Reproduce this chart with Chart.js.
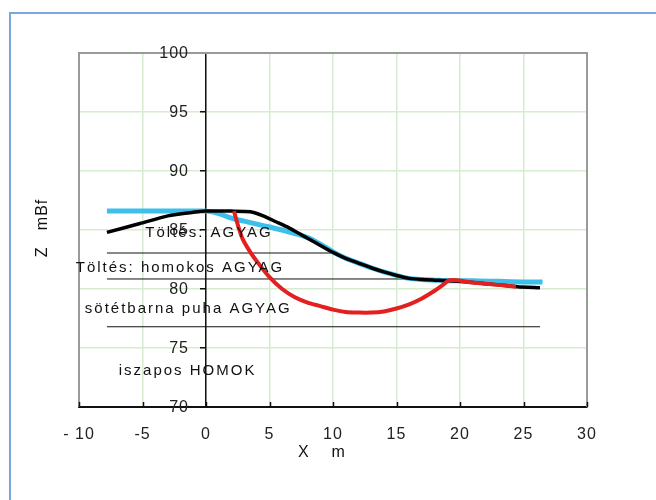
<!DOCTYPE html>
<html>
<head>
<meta charset="utf-8">
<script src="https://cdn.jsdelivr.net/npm/chart.js@4.4.1/dist/chart.umd.min.js"></script>
<style>
  html, body { margin: 0; padding: 0; background: #fff; }
  #wrap { width: 656px; height: 500px; }
</style>
</head>
<body>
<div id="wrap"><canvas id="c" width="656" height="500"></canvas></div>
<script>
// ---- data ----
const xTicks = [-10, -5, 0, 5, 10, 15, 20, 25, 30];
const xTickLabels = ['- 10', '-5', '0', '5', '10', '15', '20', '25', '30'];
const yTicks = [70, 75, 80, 85, 90, 95, 100];
const yTickLabels = ['70', '75', '80', '85', '90', '95', '100'];

const blackX = [-7.8, -5.2, -3, -1, 0, 2, 3.5, 4.5, 5.5, 6.5, 7.5, 8.5, 10, 11, 12, 13, 14, 15, 16, 17, 18, 19.2, 21, 23, 24.5, 26.3];
const blackY = [84.8, 85.55, 86.2, 86.5, 86.6, 86.6, 86.55, 86.2, 85.7, 85.2, 84.6, 84.0, 83.1, 82.6, 82.2, 81.8, 81.45, 81.15, 80.9, 80.8, 80.75, 80.7, 80.55, 80.35, 80.2, 80.1];

const cyanX = [-7.8, -4, -1, 0, 1, 2, 3, 4, 5, 6, 7, 8, 9, 10, 11, 12, 13, 14, 15, 16, 17, 18, 19.2, 21, 23, 25, 26.5];
const cyanY = [86.6, 86.6, 86.6, 86.6, 86.4, 86.0, 85.75, 85.5, 85.25, 85.0, 84.7, 84.35, 83.8, 83.15, 82.6, 82.2, 81.8, 81.45, 81.15, 80.9, 80.8, 80.75, 80.7, 80.7, 80.65, 80.6, 80.6];

const redX = [2.2, 2.6, 2.9, 3.5, 4, 5, 6, 7, 8, 9, 10, 11, 12, 13, 14, 15, 16, 17, 18, 18.6, 19.2, 21, 23, 24.4];
const redY = [86.6, 85.1, 84.2, 83.1, 82.35, 81.0, 80.0, 79.3, 78.85, 78.55, 78.25, 78.05, 78.0, 78.0, 78.1, 78.35, 78.7, 79.2, 79.85, 80.3, 80.75, 80.55, 80.35, 80.2];

const layerStartX = [-7.8, -7.8, -7.8];
const layerEndX = [10.3, 19.2, 26.3];
const layerZ = [83.05, 80.85, 76.8];

const layerNames = ['Töltés: AGYAG', 'Töltés: homokos AGYAG', 'sötétbarna puha AGYAG', 'iszapos HOMOK'];
const layerLabelX = [0.24, -2.05, -1.4, -1.45];
const layerLabelZ = [84.75, 81.8, 78.3, 73.1];

const xTitle = 'X    m';
const yTitle = 'Z   mBf';

// ---- build ----
const pts = (xs, ys) => xs.map((x, i) => ({ x: x, y: ys[i] }));
const FONT = "'Liberation Sans', Arial, sans-serif";

const datasets = [];
layerZ.forEach((z, i) => {
  datasets.push({
    data: [{ x: layerStartX[i], y: z }, { x: layerEndX[i], y: z }],
    borderColor: '#111', borderWidth: 1, pointRadius: 0, showLine: true, order: 4
  });
});
datasets.push({ data: pts(cyanX, cyanY), borderColor: '#3cbfea', borderWidth: 5, pointRadius: 0, showLine: true, tension: 0.3, order: 3 });
datasets.push({ data: pts(blackX, blackY), borderColor: '#000', borderWidth: 3.5, pointRadius: 0, showLine: true, tension: 0.2, order: 2 });
datasets.push({ data: pts(redX, redY), borderColor: '#e3201f', borderWidth: 4, pointRadius: 0, showLine: true, tension: 0.3, order: 1 });

const decor = {
  id: 'decor',
  beforeDraw(chart) {
    const ctx = chart.ctx;
    ctx.save();
    ctx.fillStyle = '#fff';
    ctx.fillRect(0, 0, chart.width, chart.height);
    ctx.fillStyle = '#7ba7de';
    ctx.fillRect(9, 12, chart.width, 2);
    ctx.fillRect(9, 12, 2, chart.height);
    ctx.restore();
    ctx.letterSpacing = '1px';
  },
  beforeDatasetsDraw(chart) {
    const ctx = chart.ctx, a = chart.chartArea, xs = chart.scales.x, ys = chart.scales.y;
    ctx.save();
    ctx.strokeStyle = '#9a9a9a';
    ctx.lineWidth = 2;
    ctx.beginPath();
    ctx.moveTo(a.left, a.bottom);
    ctx.lineTo(a.left, a.top);
    ctx.lineTo(a.right, a.top);
    ctx.lineTo(a.right, a.bottom);
    ctx.stroke();
    ctx.strokeStyle = '#111';
    ctx.lineWidth = 1.5;
    ctx.beginPath();
    xTicks.forEach(v => {
      const px = Math.round(xs.getPixelForValue(v)) + 0.5;
      ctx.moveTo(px, a.bottom);
      ctx.lineTo(px, a.bottom - 5);
    });
    ctx.stroke();
    ctx.restore();
  },
  afterDraw(chart) {
    const ctx = chart.ctx, xs = chart.scales.x, ys = chart.scales.y;
    ctx.save();
    ctx.fillStyle = '#222';
    ctx.font = '16px ' + FONT;
    ctx.letterSpacing = '1px';
    ctx.textAlign = 'right';
    ctx.textBaseline = 'middle';
    const ax = xs.getPixelForValue(0);
    yTicks.forEach((v, i) => {
      ctx.fillText(yTickLabels[i], ax - 17, ys.getPixelForValue(v) + 1);
    });
    ctx.fillStyle = '#111';
    ctx.font = '15px ' + FONT;
    ctx.letterSpacing = '2px';
    ctx.textAlign = 'center';
    layerNames.forEach((t, i) => {
      ctx.fillText(t, xs.getPixelForValue(layerLabelX[i]), ys.getPixelForValue(layerLabelZ[i]));
    });
    ctx.font = '16px ' + FONT;
    ctx.letterSpacing = '1px';
    ctx.fillText(xTitle, 322, 453);
    ctx.translate(43, 228);
    ctx.rotate(-Math.PI / 2);
    ctx.fillText(yTitle, 0, 0);
    ctx.restore();
  }
};

new Chart(document.getElementById('c'), {
  type: 'scatter',
  data: { datasets: datasets },
  plugins: [decor],
  options: {
    responsive: false,
    animation: false,
    layout: { padding: { left: 79, right: 69, top: 53, bottom: 0 } },
    plugins: { legend: { display: false }, tooltip: { enabled: false } },
    scales: {
      x: {
        type: 'linear', min: -10, max: 30,
        afterFit: s => { s.height = 93; },
        afterBuildTicks: s => { s.ticks = xTicks.map(v => ({ value: v })); },
        ticks: {
          padding: 18, color: '#222', font: { size: 16, family: FONT },
          maxRotation: 0,
          callback: v => xTickLabels[xTicks.indexOf(v)]
        },
        grid: { color: '#d6ecd0', lineWidth: 1.5, drawTicks: false },
        border: { color: '#111', width: 2 }
      },
      y: {
        type: 'linear', min: 70, max: 100,
        position: { x: 0 },
        afterBuildTicks: s => { s.ticks = yTicks.map(v => ({ value: v })); },
        ticks: { display: false },
        grid: { color: '#d6ecd0', lineWidth: 1.5, drawTicks: true, tickLength: 5, tickColor: '#111', tickWidth: 1.5 },
        border: { color: '#111', width: 1.5 }
      }
    }
  }
});
</script>
</body>
</html>
